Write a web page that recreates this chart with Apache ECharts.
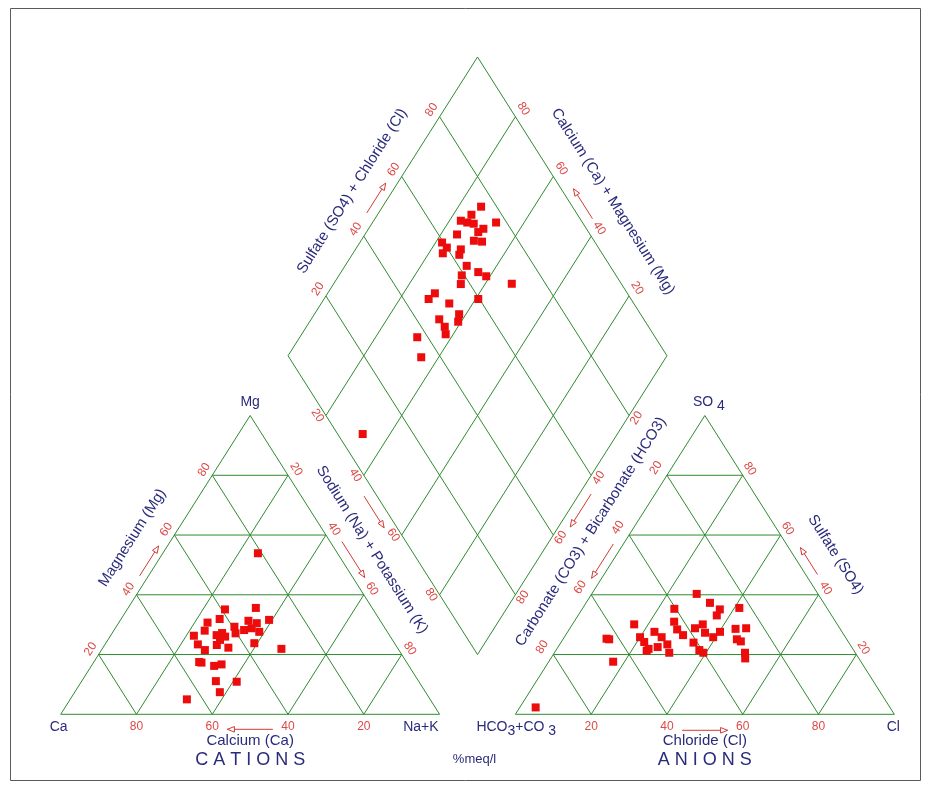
<!DOCTYPE html>
<html>
<head>
<meta charset="utf-8">
<title>Piper diagram</title>
<script src="https://cdn.jsdelivr.net/npm/echarts@6/dist/echarts.min.js"></script>
<style>
  html, body { margin: 0; padding: 0; background: #ffffff; }
  #chart { width: 931px; height: 803px; }
</style>
</head>
<body>
<div id="chart"></div>
<script>
// Piper diagram of water samples, %meq/l

// Cation triangle: magnesium and sodium+potassium (%); calcium is the remainder
const cationMg  = [35.1, 35.6, 31.9, 30.7, 28.0, 29.3, 31.3, 30.5, 31.6, 28.2, 28.8, 27.6, 27.1, 26.3, 26.5, 26.0, 24.9,
                   23.4, 23.2, 22.3, 21.5, 23.8, 21.9, 17.5, 17.3, 16.2, 16.7, 11.1, 10.9, 7.4, 5.0, 53.9, 27.2];
const cationNaK = [25.8, 33.7, 26.0, 23.4, 24.0, 31.2, 33.9, 36.5, 39.2, 34.3, 36.0, 38.6, 32.6, 22.0, 27.9, 30.4, 29.6,
                   24.5, 29.6, 33.1, 27.3, 39.2, 47.3, 27.8, 28.5, 32.4, 34.1, 35.4, 41.0, 38.3, 30.8, 25.1, 29.0];

// Anion triangle: sulfate and chloride (%); carbonate+bicarbonate is the remainder
const anionSO4 = [40.3, 37.3, 35.1, 33.1, 35.6, 35.3, 30.1, 31.0, 28.4, 26.5, 28.8, 30.1, 27.3, 25.8, 27.6, 28.6, 28.8,
                  25.1, 24.4, 20.6, 18.7, 25.3, 25.1, 17.6, 25.8, 24.2, 27.6, 25.8, 23.4, 22.5, 21.3, 21.9, 20.6,
                  24.0, 21.5, 20.6, 2.3];
const anionCl  = [27.7, 32.7, 36.4, 36.6, 41.3, 24.3, 16.3, 26.4, 28.5, 31.0, 33.0, 34.4, 36.4, 39.3, 40.2, 43.8, 46.5,
                  45.9, 47.3, 50.3, 51.3, 11.4, 12.2, 17.0, 20.0, 21.9, 22.9, 25.7, 28.4, 26.3, 24.0, 24.2, 30.3,
                  35.0, 37.8, 39.3, 4.2];

// Diamond: sodium+potassium (%) and sulfate+chloride (%)
const diamondNaK   = [26.0, 24.8, 23.0, 25.0, 26.9, 32.6, 30.3, 29.5, 32.1, 29.8, 24.3, 21.7, 23.8, 23.7, 27.8, 28.3,
                      32.1, 36.2, 39.0, 32.4, 33.6, 47.0, 28.3, 27.6, 33.8, 40.7, 33.8, 36.5, 38.2, 39.2, 38.0, 31.0,
                      35.4, 32.8];
const diamondSO4Cl = [75.9, 72.0, 68.2, 69.6, 71.1, 77.2, 72.8, 70.9, 70.3, 68.3, 64.9, 59.6, 60.0, 58.0, 63.4, 62.1,
                      62.2, 64.2, 65.6, 59.3, 57.6, 71.1, 49.2, 46.6, 51.3, 59.7, 46.0, 46.2, 52.1, 50.6, 45.2, 37.2,
                      34.9, 6.6];

const tickValues = [20, 40, 60, 80];

// ---- geometry of the diagram in plot units ----
const SIDE = 100;
const H = SIDE * Math.sqrt(3) / 2;      // triangle height
const GAP = 20;                         // space between the two triangles
const H0 = GAP / 2 * Math.sqrt(3);      // height of the diamond's lower corner
const V = {
  ca:   [0, 0],            nak: [SIDE, 0],            mg:  [SIDE / 2, H],
  hco3: [SIDE + GAP, 0],   cl:  [2 * SIDE + GAP, 0],  so4: [1.5 * SIDE + GAP, H],
  dB: [SIDE + GAP / 2, H0],          dT: [SIDE + GAP / 2, H0 + 2 * H],
  dL: [SIDE / 2 + GAP / 2, H0 + H],  dR: [1.5 * SIDE + GAP / 2, H0 + H]
};
const CENTRE = {
  cat: [SIDE / 2, H / 3],
  an: [1.5 * SIDE + GAP, H / 3],
  dia: [SIDE + GAP / 2, H0 + H]
};

function cationXY(mg, nak) {
  return [V.ca[0] + nak * SIDE / 100 + mg * SIDE / 200, mg * H / 100];
}
function anionXY(so4, cl) {
  return [V.hco3[0] + cl * SIDE / 100 + so4 * SIDE / 200, so4 * H / 100];
}
function diamondXY(nak, sc) {
  const p = nak / 100, q = sc / 100;
  return [V.dL[0] + q * (V.dT[0] - V.dL[0]) + p * (V.dB[0] - V.dL[0]),
          V.dL[1] + q * (V.dT[1] - V.dL[1]) + p * (V.dB[1] - V.dL[1])];
}

// ---- styles ----
const GREEN = '#2f8a2f';
const POINT_RED = '#ec0c0c';
const TICK_RED = '#dc4a46';
const ARROW_RED = '#d23a36';
const NAVY = '#2a2a7c';
const FONT = "'Liberation Sans', Arial, sans-serif";

// Labelled sides: values run from 0 at corner a to 100 at corner b
const sides = [
  { a: 'ca',  b: 'mg',  c: 'cat', lab: [-8, -5.5], arrow: [45, 55],   aOff: 7.5, title: 'Magnesium (Mg)', tAt: 53, tOff: 34 },
  { a: 'mg',  b: 'nak', c: 'cat', lab: [8, -6],    arrow: [44, 56],   aOff: 10,  title: 'Sodium (Na) + Potassium (K)', tAt: 50.5, tOff: 31 },
  { a: 'nak', b: 'ca',  c: 'cat', lab: [0, 12],    arrow: [44, 56],   aOff: 15,  title: 'Calcium (Ca)', tAt: 50, tOff: 27, big: 'C A T I O N S' },
  { a: 'so4', b: 'hco3', c: 'an', lab: [-11, -7.5], arrow: [44.5, 56], aOff: 8.5, title: 'Carbonate (CO3) + Bicarbonate (HCO3)', tAt: 45, tOff: 34 },
  { a: 'cl',  b: 'so4', c: 'an',  lab: [7, -6.5],  arrow: [45, 54],   aOff: 10,  title: 'Sulfate (SO4)', tAt: 47, tOff: 36 },
  { a: 'hco3', b: 'cl', c: 'an',  lab: [0, 12],    arrow: [44, 56],   aOff: 16,  title: 'Chloride (Cl)', tAt: 50, tOff: 27, big: 'A N I O N S' },
  { a: 'dL',  b: 'dT',  c: 'dia', lab: [-8, -7],   arrow: [46, 56],   aOff: 10,  title: 'Sulfate (SO4) + Chloride (Cl)', tAt: 49, tOff: 34 },
  { a: 'dR',  b: 'dT',  c: 'dia', lab: [8, -8],    arrow: [44, 54],   aOff: 10.5, title: 'Calcium (Ca) + Magnesium (Mg)', tAt: 45, tOff: 37 },
  { a: 'dL',  b: 'dB',  c: 'dia', lab: [-8.5, 0],  arrow: [45, 55.6], aOff: 11 },
  { a: 'dR',  b: 'dB',  c: 'dia', lab: [7.5, 2.5], arrow: [44.5, 55.5], aOff: 10 }
];

function drawFrame(params, api) {
  const px = d => api.coord(d);
  const kids = [];

  const seg = (a, b, color) => {
    const p = px(a), q = px(b);
    kids.push({ type: 'line', shape: { x1: p[0], y1: p[1], x2: q[0], y2: q[1] },
                style: { stroke: color || GREEN, lineWidth: 1 } });
  };
  const poly = pts => kids.push({ type: 'polygon', shape: { points: pts.map(px) },
                                  style: { fill: 'none', stroke: GREEN, lineWidth: 1 } });
  const text = (x, y, str, o) => kids.push({
    type: 'text', x: x, y: y, rotation: o.rot || 0,
    style: Object.assign({ text: str, fill: o.color, font: o.font, align: o.align || 'center', verticalAlign: 'middle' }, o.extra || {})
  });
  const arrow = (p, q) => {
    kids.push({ type: 'line', shape: { x1: p[0], y1: p[1], x2: q[0], y2: q[1] },
                style: { stroke: ARROW_RED, lineWidth: 1 } });
    const ang = Math.atan2(q[1] - p[1], q[0] - p[0]);
    const L = 7, W = 2.8;
    const bx = q[0] - L * Math.cos(ang), by = q[1] - L * Math.sin(ang);
    const nx = -Math.sin(ang) * W, ny = Math.cos(ang) * W;
    kids.push({ type: 'polygon', shape: { points: [[q[0], q[1]], [bx + nx, by + ny], [bx - nx, by - ny]] },
                style: { fill: '#ffffff', stroke: ARROW_RED, lineWidth: 1 } });
  };

  // outlines
  poly([V.ca, V.nak, V.mg]);
  poly([V.hco3, V.cl, V.so4]);
  poly([V.dB, V.dR, V.dT, V.dL]);

  // internal grid every 20 %
  tickValues.forEach(v => {
    seg(cationXY(v, 0), cationXY(v, 100 - v));
    seg(cationXY(0, v), cationXY(100 - v, v));
    seg(cationXY(0, 100 - v), cationXY(100 - v, 0));
    seg(anionXY(v, 0), anionXY(v, 100 - v));
    seg(anionXY(0, v), anionXY(100 - v, v));
    seg(anionXY(0, 100 - v), anionXY(100 - v, 0));
    seg(diamondXY(0, v), diamondXY(100, v));
    seg(diamondXY(v, 0), diamondXY(v, 100));
  });

  // tick labels, arrows and side titles
  sides.forEach(s => {
    const pA = px(V[s.a]), pB = px(V[s.b]);
    const dx = pB[0] - pA[0], dy = pB[1] - pA[1], len = Math.hypot(dx, dy);
    let nx = -dy / len, ny = dx / len;
    const c = px(CENTRE[s.c]);
    const mx = (pA[0] + pB[0]) / 2, my = (pA[1] + pB[1]) / 2;
    if ((c[0] - mx) * nx + (c[1] - my) * ny > 0) { nx = -nx; ny = -ny; }
    let rot = Math.atan2(-dy, dx);
    if (rot > Math.PI / 2 + 1e-6) rot -= Math.PI;
    else if (rot < -Math.PI / 2 - 1e-6) rot += Math.PI;
    const at = v => [pA[0] + dx * v / 100, pA[1] + dy * v / 100];

    tickValues.forEach(v => {
      const p = at(v);
      text(p[0] + s.lab[0], p[1] + s.lab[1], String(v), { rot: rot, color: TICK_RED, font: '12px ' + FONT });
    });
    const a0 = at(s.arrow[0]), a1 = at(s.arrow[1]);
    arrow([a0[0] + nx * s.aOff, a0[1] + ny * s.aOff], [a1[0] + nx * s.aOff, a1[1] + ny * s.aOff]);
    if (s.title) {
      const t = at(s.tAt);
      text(t[0] + nx * s.tOff, t[1] + ny * s.tOff, s.title, { rot: rot, color: NAVY, font: '15px ' + FONT });
    }
    if (s.big) {
      const t = at(50);
      text(t[0], t[1] + 46, s.big, { color: NAVY, font: '18px ' + FONT });
    }
  });

  // corner names
  const cl = (key, dx, dy, str, align, extra) => {
    const p = px(V[key]);
    text(p[0] + dx, p[1] + dy, str, { color: NAVY, font: '14px ' + FONT, align: align, extra: extra });
  };
  const sub = { rich: { s: { font: '14px ' + FONT, fill: NAVY, padding: [7, 0, 0, 0] } } };
  cl('ca', -2, 13, 'Ca', 'center');
  cl('nak', -1, 13, 'Na+K', 'right');
  cl('mg', 0, -13, 'Mg', 'center');
  cl('hco3', -39, 13, 'HCO{s|3}+CO {s|3}', 'left', sub);
  cl('cl', -1, 13, 'Cl', 'center');
  cl('so4', 4, -13, 'SO {s|4}', 'center', sub);

  const b = px(V.dB), base = px(V.ca);
  text(b[0] - 3, base[1] + 45, '%meq/l', { color: NAVY, font: '13px ' + FONT });

  return { type: 'group', children: kids };
}

const chart = echarts.init(document.getElementById('chart'), null, { renderer: 'canvas' });
const pointStyle = { color: POINT_RED, opacity: 1 };
chart.setOption({
  animation: false,
  backgroundColor: '#ffffff',
  grid: { left: 60.7, right: 36.7, top: 24.3, bottom: 88.7 },
  xAxis: { type: 'value', min: 0, max: 2 * SIDE + GAP, show: false },
  yAxis: { type: 'value', min: 0, max: 200, show: false },
  graphic: [{
    type: 'rect', silent: true,
    shape: { x: 10.5, y: 8.5, width: 910, height: 772 },
    style: { fill: 'none', stroke: '#5a5a5a', lineWidth: 1 }
  }],
  series: [
    { type: 'custom', clip: false, silent: true, z: 1, data: [[0, 0]], renderItem: drawFrame },
    { type: 'scatter', name: 'Cations', z: 5, symbol: 'rect', symbolSize: 8, itemStyle: pointStyle,
      data: cationMg.map((m, i) => cationXY(m, cationNaK[i])) },
    { type: 'scatter', name: 'Anions', z: 5, symbol: 'rect', symbolSize: 8, itemStyle: pointStyle,
      data: anionSO4.map((s, i) => anionXY(s, anionCl[i])) },
    { type: 'scatter', name: 'Diamond', z: 5, symbol: 'rect', symbolSize: 8, itemStyle: pointStyle,
      data: diamondNaK.map((n, i) => diamondXY(n, diamondSO4Cl[i])) }
  ]
});
</script>
</body>
</html>
